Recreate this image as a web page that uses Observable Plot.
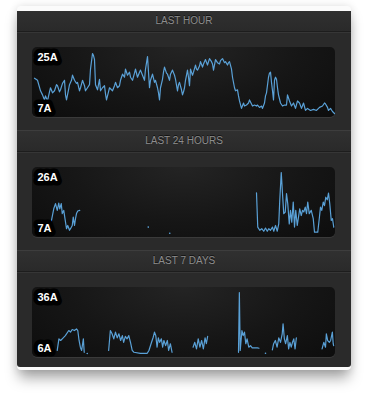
<!DOCTYPE html>
<html><head><meta charset="utf-8">
<script src="https://cdn.jsdelivr.net/npm/d3@7"></script>
<script src="https://cdn.jsdelivr.net/npm/@observablehq/plot@0.6"></script>
<style>
html,body{margin:0;padding:0;background:#fff;width:368px;height:398px;overflow:hidden;font-family:"Liberation Sans",Arial,sans-serif;}
#card{position:absolute;left:17px;top:6px;width:334px;height:364px;background:#fbfbfb;border-radius:4px;box-shadow:0 10px 14px -2px rgba(0,0,0,0.35),0 0 8px rgba(0,0,0,0.12);}
#panel{position:absolute;left:17px;top:11px;width:334px;height:356px;background:#2a2a2a;border-radius:0 0 3px 3px;overflow:hidden;}
.section{position:absolute;left:0;width:334px;height:120px;}
.header{position:absolute;left:0;top:0;width:334px;height:20px;line-height:20px;text-align:center;font-size:10px;color:#8d8d8d;background:linear-gradient(#303030,#2a2a2a);border-bottom:1px solid #1d1d1d;box-shadow:0 1px 0 #363636;text-shadow:0 -1px 0 #111;}
.header.sep{border-top:1px solid #3d3d3d;top:-1px;}
.box{position:absolute;left:15px;top:36px;width:303px;height:70px;border-radius:5px;background:radial-gradient(ellipse at 50% 0%,#242424 0%,#161616 55%,#0d0d0d 100%);box-shadow:0 1px 0 #3a3a3a;}
.box svg{position:absolute;left:0;top:0;overflow:visible;}
</style>
</head><body>
<div id="card"></div>
<div id="panel"></div>
<script>
// ---- data ----
const titles = ["LAST HOUR", "LAST 24 HOURS", "LAST 7 DAYS"];

// Last hour: [minute, amps]
const hourReadings = [[0,17.4],[0.6,16.8],[1.2,13.7],[1.6,12.5],[2.0,11.0],[2.2,12.2],[2.6,10.7],[3.0,13.4],[3.2,14.6],[3.6,13.1],[4.0,13.7],[4.4,15.5],[4.6,15.2],[5.0,13.4],[5.2,14.0],[5.6,15.9],[6.0,16.8],[6.2,12.5],[6.4,11.0],[6.8,14.0],[7.0,15.5],[7.4,16.8],[7.6,18.3],[8.0,16.8],[8.4,15.9],[8.6,16.2],[9.0,13.7],[9.2,14.6],[9.6,16.8],[10.0,15.2],[10.2,13.7],[10.6,14.6],[11.0,15.5],[11.2,20.1],[11.6,24.7],[11.8,24.1],[12.0,22.9],[12.2,15.5],[12.6,14.0],[13.0,17.1],[13.2,13.7],[13.6,14.6],[14.0,15.2],[14.2,12.8],[14.4,11.0],[14.8,13.4],[15.0,14.6],[15.4,14.0],[15.6,13.7],[16.0,15.2],[16.2,16.2],[16.6,14.6],[17.0,15.2],[17.2,16.8],[17.6,18.6],[18.0,17.7],[18.2,20.1],[18.6,18.3],[19.0,19.2],[19.2,17.7],[19.6,16.8],[20.0,18.9],[20.2,20.1],[20.6,17.7],[21.0,19.2],[21.2,19.8],[21.6,18.3],[22.0,16.8],[22.2,20.1],[22.6,23.8],[22.8,19.2],[23.0,14.6],[23.2,16.8],[23.6,18.6],[24.0,16.2],[24.2,16.8],[24.6,14.6],[24.8,13.1],[25.0,11.0],[25.2,14.6],[25.6,17.1],[25.8,19.2],[26.0,20.7],[26.4,18.9],[26.6,18.6],[27.0,16.8],[27.2,18.6],[27.6,19.8],[28.0,18.3],[28.2,17.1],[28.6,13.7],[28.8,15.5],[29.0,16.2],[29.4,14.0],[29.6,12.5],[29.8,13.4],[30.0,14.6],[30.2,16.8],[30.6,19.8],[30.8,17.7],[31.0,15.2],[31.2,20.1],[31.6,18.3],[31.8,19.2],[32.2,21.3],[32.4,20.1],[32.6,19.8],[33.0,21.0],[33.2,22.3],[33.6,20.7],[33.8,21.6],[34.2,22.9],[34.6,21.3],[35.0,23.2],[35.4,22.3],[35.6,21.6],[35.8,19.8],[36.2,22.9],[36.6,22.0],[37.0,21.6],[37.2,22.6],[37.6,23.2],[38.0,22.0],[38.2,22.3],[38.6,21.3],[38.8,22.0],[39.0,22.3],[39.4,20.1],[39.6,17.7],[40.0,14.6],[40.2,13.7],[40.6,14.0],[40.8,12.2],[41.0,10.7],[41.4,8.5],[41.8,10.1],[42.0,9.2],[42.4,9.5],[42.8,10.1],[43.0,11.0],[43.4,9.8],[43.6,9.2],[44.0,9.5],[44.4,9.2],[44.6,9.5],[45.0,8.8],[45.4,9.2],[45.6,8.5],[46.0,10.1],[46.2,12.2],[46.4,13.1],[46.8,17.7],[47.0,18.9],[47.2,19.2],[47.4,16.2],[47.6,13.7],[47.8,11.0],[48.0,16.8],[48.2,17.7],[48.4,17.1],[48.6,14.6],[48.8,12.5],[49.2,10.1],[49.6,9.2],[50.0,9.5],[50.4,9.5],[50.6,12.5],[51.0,10.7],[51.4,9.2],[51.8,10.1],[52.2,8.5],[52.6,10.7],[53.0,10.1],[53.4,8.5],[53.8,10.1],[54.2,7.9],[54.6,8.5],[55.2,7.9],[55.8,8.2],[56.4,7.9],[57.0,8.8],[57.6,9.2],[58.0,10.1],[58.2,9.8],[58.6,8.8],[58.8,7.9],[59.2,8.5],[59.6,7.6],[60.0,7.0]];
const hourScale = [25, 7];

// Last 24 hours: [hour, amps]; null = no reading (gap)
const dayReadings = [[1.28,9.5],[1.54,14.7],[1.68,16.3],[1.82,14.2],[1.94,16.5],[2.02,14.7],[2.14,16.3],[2.22,13.2],[2.34,14.2],[2.42,12.1],[2.56,8.5],[2.66,9.5],[2.80,8.0],[2.88,8.5],[3.02,9.5],[3.10,12.1],[3.20,9.5],[3.28,11.6],[3.36,13.2],[3.46,14.0],[3.62,14.2],[3.7,null],
[17.76,19.7],[17.86,9.0],[18.02,8.0],[18.18,8.5],[18.34,7.7],[18.48,8.7],[18.62,7.7],[18.74,8.5],[18.88,8.0],[19.04,9.0],[19.14,7.7],[19.28,9.5],[19.42,7.7],[19.54,10.0],[19.62,17.3],[19.74,26.0],[19.84,19.4],[19.94,13.2],[20.06,13.7],[20.16,19.4],[20.26,16.3],[20.38,10.0],[20.48,14.2],[20.58,10.5],[20.70,16.8],[20.80,9.0],[20.90,14.2],[21.02,9.5],[21.12,12.1],[21.22,14.7],[21.34,12.6],[21.44,14.2],[21.54,13.7],[21.66,15.2],[21.76,13.2],[21.86,16.8],[21.98,13.2],[22.14,14.2],[22.30,11.6],[22.40,7.4],[22.56,7.4],[22.66,7.4],[22.78,11.6],[22.88,15.2],[22.98,14.2],[23.10,16.8],[23.20,15.7],[23.30,18.3],[23.42,17.5],[23.52,19.6],[23.62,16.3],[23.74,11.1],[23.84,11.6],[23.94,9.0]];
const dayIsolated = [[9.10,9.0],[10.82,7.1]];
const dayScale = [26, 7];

// Last 7 days: [day, amps]; null = no reading (gap)
const weekReadings = [[0.53,7.5],[0.57,13.2],[0.61,12.4],[0.67,13.7],[0.72,14.8],[0.80,17.3],[0.84,16.5],[0.88,17.8],[0.93,17.3],[0.98,18.1],[1.01,17.3],[1.04,12.4],[1.07,9.1],[1.10,7.5],[1.14,13.2],[1.16,6.6],[1.18,null],
[1.73,7.5],[1.77,17.3],[1.81,15.7],[1.85,13.2],[1.89,16.5],[1.93,13.7],[1.97,15.7],[2.01,12.4],[2.05,14.8],[2.08,11.5],[2.12,14.4],[2.16,13.2],[2.20,14.8],[2.24,11.5],[2.28,7.5],[2.32,6.6],[2.47,6.1],[2.63,6.1],[2.67,7.5],[2.72,10.8],[2.77,14.0],[2.80,16.5],[2.83,14.8],[2.86,9.1],[2.89,13.7],[2.92,11.5],[2.96,13.2],[2.99,9.1],[3.02,12.4],[3.06,9.9],[3.10,12.4],[3.13,7.5],[3.17,10.8],[3.21,6.6],[3.3,null],
[3.70,9.1],[3.74,11.5],[3.78,8.3],[3.82,13.2],[3.86,9.1],[3.90,12.4],[3.94,8.3],[3.98,13.7],[4.01,10.8],[4.04,14.4],[4.1,null],
[4.76,6.6],[4.78,36.0],[4.80,7.5],[4.84,17.3],[4.87,14.8],[4.90,16.5],[4.93,10.8],[4.96,13.2],[5.00,9.1],[5.04,9.9],[5.08,8.8],[5.12,8.8],[5.20,8.8],[5.24,8.6],[5.3,null],
[5.55,7.8],[5.58,10.8],[5.62,12.4],[5.66,9.1],[5.70,13.7],[5.74,11.5],[5.78,15.7],[5.80,20.6],[5.83,13.2],[5.86,10.8],[5.90,14.8],[5.93,8.3],[5.96,11.5],[5.99,9.1],[6.02,11.5],[6.05,13.2],[6.08,8.3],[6.11,13.7],[6.2,null],
[6.71,8.3],[6.75,11.5],[6.79,9.1],[6.81,15.7],[6.84,12.4],[6.88,11.5],[6.91,12.4],[6.95,16.5],[6.97,10.8],[6.98,9.9]];
const weekIsolated = [[1.23,6.0],[5.39,6.1]];
const weekScale = [36, 6];

const sections = [
  {readings: hourReadings, isolated: [], scale: hourScale, span: [0, 60]},
  {readings: dayReadings, isolated: dayIsolated, scale: dayScale, span: [0, 24]},
  {readings: weekReadings, isolated: weekIsolated, scale: weekScale, span: [0, 7]}
];

const LINE = "#5ea9e2";
const panel = document.getElementById("panel");

sections.forEach((s, i) => {
  const sec = document.createElement("div");
  sec.className = "section";
  sec.style.top = (i * 120) + "px";
  const h = document.createElement("div");
  h.className = "header" + (i > 0 ? " sep" : "");
  h.textContent = titles[i];
  sec.appendChild(h);
  const box = document.createElement("div");
  box.className = "box";
  sec.appendChild(box);
  panel.appendChild(sec);

  const [hi, lo] = s.scale;
  const labelStyle = {
    frameAnchor: "left", textAnchor: "start", dx: 3,
    text: d => d + "A", fill: "#fff", fontSize: 11, fontWeight: "bold",
    stroke: "#000", strokeWidth: 9, strokeLinejoin: "round", paintOrder: "stroke"
  };
  const chart = Plot.plot({
    width: 303, height: 70,
    marginLeft: 2, marginRight: 1, marginTop: 5, marginBottom: 4,
    x: {domain: s.span, axis: null},
    y: {domain: [lo, hi], axis: null},
    style: {background: "transparent", overflow: "visible", fontFamily: "'Liberation Sans', Arial, sans-serif"},
    marks: [
      Plot.line(s.readings, {x: d => d[0], y: d => d[1], stroke: LINE, strokeWidth: 1.2, strokeOpacity: 0.95}),
      Plot.dot(s.isolated, {x: d => d[0], y: d => d[1], r: 0.8, fill: LINE, stroke: null}),
      Plot.text([hi], {...labelStyle, y: d => d, dy: 5}),
      Plot.text([lo], {...labelStyle, y: d => d, dy: -5})
    ]
  });
  box.appendChild(chart);
});
</script>
</body></html>
